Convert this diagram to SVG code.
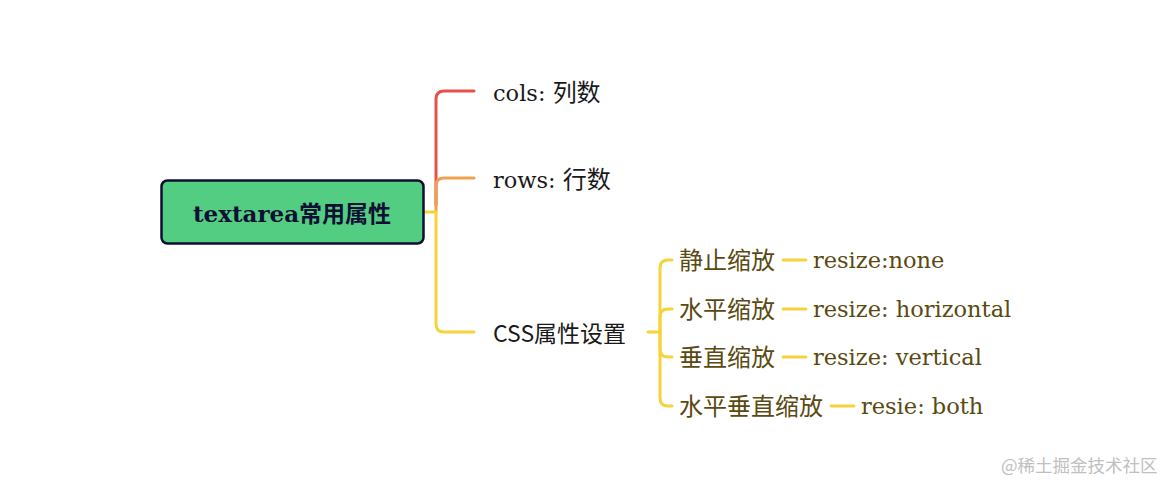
<svg xmlns="http://www.w3.org/2000/svg" width="1166" height="482" viewBox="0 0 1166 482">
<style>
.t{font-family:"DejaVu Serif","Liberation Serif","Noto Sans CJK SC",serif;font-size:22.5px;fill:#1a1a1a}
.s{font-family:"DejaVu Serif","Liberation Serif","Noto Sans CJK SC",serif;font-size:22.5px;fill:#5a4a12}
.c{font-family:"Noto Sans CJK SC",sans-serif;font-size:24px}
.ln{fill:none;stroke-width:3;stroke-linecap:round}
.y{stroke:#f5d33a}
</style>
<rect width="1166" height="482" fill="#ffffff"/>
<g id="connectors">
<path class="ln" stroke="#e8504a" d="M436,205 V99 Q436,91 444,91 H474"/>
<path class="ln" stroke="#f0a052" d="M436,212 V186 Q436,178 444,178 H474"/>
<path class="ln y" d="M423,212 H436 V324 Q436,332 444,332 H474"/>
<path class="ln y" d="M648,332 H660"/>
<path class="ln y" d="M660,332 V268 Q660,260 668,260 H672"/>
<path class="ln y" d="M660,332 V317 Q660,309 668,309 H672"/>
<path class="ln y" d="M660,332 V349 Q660,357 668,357 H672"/>
<path class="ln y" d="M660,332 V398 Q660,406 668,406 H672"/>
<path class="ln y" d="M783,260 H806"/>
<path class="ln y" d="M783,309 H806"/>
<path class="ln y" d="M783,357 H806"/>
<path class="ln y" d="M831,406 H854"/>
</g>
<g id="root">
<rect x="161.5" y="180.5" width="262" height="63" rx="6" fill="#52cd82" stroke="#0e0f33" stroke-width="2.5"/>
<text x="292" y="222" text-anchor="middle" font-family="DejaVu Serif,'Noto Sans CJK SC',serif" font-size="23" font-weight="bold" fill="#0e0f33">textarea常用属性</text>
</g>
<g id="cols"><text class="t" x="493" y="101">cols: <tspan class="c">列数</tspan></text></g>
<g id="rows"><text class="t" x="493" y="188">rows: <tspan class="c">行数</tspan></text></g>
<g id="css"><text class="t c" x="493" y="342" style="font-size:23px">CSS属性设置</text></g>
<g id="n1"><text class="s c" x="679" y="269">静止缩放</text></g>
<g id="n2"><text class="s c" x="679" y="318">水平缩放</text></g>
<g id="n3"><text class="s c" x="679" y="366">垂直缩放</text></g>
<g id="n4"><text class="s c" x="679" y="415">水平垂直缩放</text></g>
<g id="v1"><text class="s" x="813" y="268">resize:none</text></g>
<g id="v2"><text class="s" x="813" y="317">resize: horizontal</text></g>
<g id="v3"><text class="s" x="813" y="365">resize: vertical</text></g>
<g id="v4"><text class="s" x="861" y="414">resie: both</text></g>
<text x="1001" y="472" font-family="'Noto Sans CJK SC',sans-serif" font-size="17.5" fill="#c0c0c0">@稀土掘金技术社区</text>
</svg>
